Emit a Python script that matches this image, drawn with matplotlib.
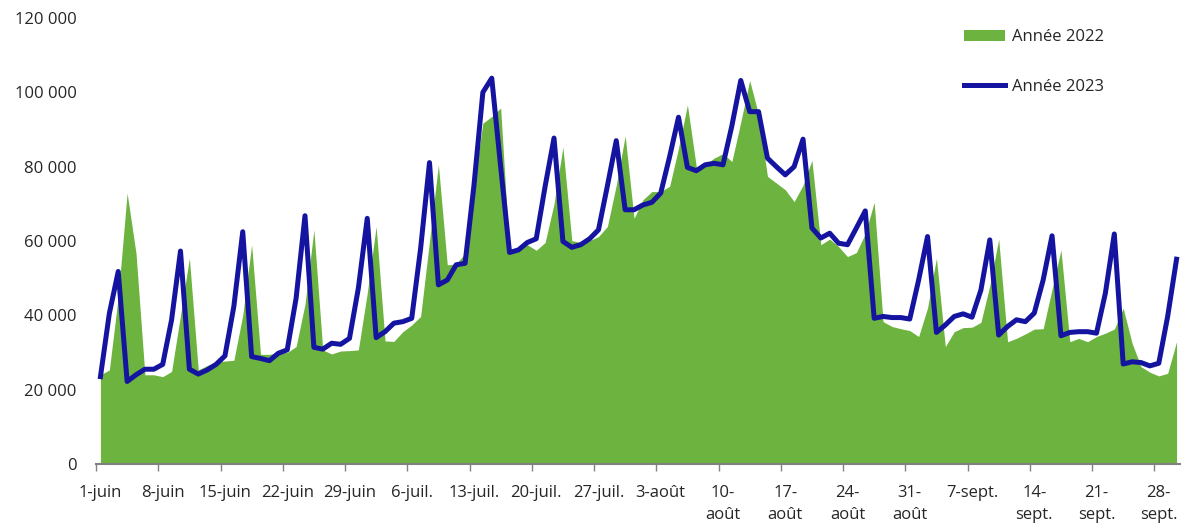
import matplotlib
matplotlib.use("Agg")
import matplotlib.pyplot as plt
import numpy as np

plt.rcParams['font.family'] = ['Open Sans', 'DejaVu Sans']

y2023 = [23500, 40500, 51800, 22200, 24000, 25500, 25500, 26800, 38800, 57300,
         25500, 24200, 25300, 26800, 29100, 42400, 62500, 28900, 28400, 27800,
         29800, 30700, 44600, 66800, 31400, 30900, 32500, 32200, 33800, 47300,
         66100, 34000, 35600, 37900, 38300, 39200, 58000, 81100, 48200, 49500,
         53600, 54000, 75000, 100000, 103800, 80000, 56900, 57600, 59600, 60600,
         74700, 87700, 59900, 58300, 59000, 60600, 63000, 74800, 87000, 68400,
         68400, 69700, 70400, 72900, 82700, 93300, 79800, 78900, 80500, 80900,
         80500, 91000, 103200, 94800, 94800, 82300, 80000, 77800, 80000, 87400,
         63500, 60800, 62100, 59400, 59000, 63500, 68100, 39200, 39700, 39400,
         39400, 39000, 49500, 61200, 35400, 37400, 39700, 40400, 39500, 46800,
         60300, 34700, 37000, 38800, 38300, 40600, 49500, 61400, 34500, 35400,
         35600, 35600, 35200, 46000, 61900, 26900, 27500, 27300, 26400, 27100,
         39700, 55100]

y2022 = [24000, 25300, 45000, 72900, 56700, 24000, 24000, 23500, 24900, 40000,
         55400, 25300, 26500, 27500, 27700, 27900, 40000, 59000, 29500, 29500,
         29800, 30000, 31600, 43000, 63000, 30700, 29600, 30400, 30500, 30700,
         46000, 63900, 33100, 33000, 35600, 37400, 39700, 60000, 80500, 53600,
         53800, 56700, 75000, 91700, 93500, 95800, 56500, 58500, 59000, 57500,
         59600, 70000, 85300, 60100, 59600, 60100, 61200, 63900, 75000, 88300,
         66100, 71100, 73300, 73300, 74700, 85000, 96600, 80000, 80500, 82300,
         83500, 81400, 92000, 103200, 94000, 77400, 75600, 73800, 70600, 75000,
         81700, 59000, 60500, 58500, 55800, 56900, 62000, 70400, 38300, 37000,
         36400, 35900, 34300, 42000, 55400, 31600, 35600, 36700, 36800, 38100,
         48000, 60500, 32900, 33800, 35000, 36300, 36400, 47000, 57600, 32900,
         33800, 32900, 34300, 35200, 36300, 41900, 32500, 26200, 24700, 23700,
         24400, 32900]

tick_labels = ["1-juin", "8-juin", "15-juin", "22-juin", "29-juin", "6-juil.",
               "13-juil.", "20-juil.", "27-juil.", "3-août", "10-\naoût",
               "17-\naoût", "24-\naoût", "31-\naoût", "7-sept.", "14-\nsept.",
               "21-\nsept.", "28-\nsept."]
y_ticks = [0, 20000, 40000, 60000, 80000, 100000, 120000]

green = '#6DB33F'
blue = '#1414A0'
text_color = '#262626'

fig = plt.figure(figsize=(11.81, 5.25), dpi=100)
ax = fig.add_axes([96/1181, 61/525, 1085/1181, 446/525])

n = len(y2023)
x = np.arange(n)
ax.fill_between(x, 0, y2022, color=green, linewidth=0, label='Année 2022')
ax.plot(x, y2023, color=blue, linewidth=3.6, solid_joinstyle='round', label='Année 2023')

ax.set_xlim(-0.5, n - 0.5)
ax.set_ylim(0, 120000)

# major ticks at category boundaries (marks only)
ax.set_xticks(np.arange(-0.5, n, 7))
ax.set_xticklabels([])
ax.tick_params(axis='x', which='major', length=5, width=1, color='#808080', direction='out')
# minor ticks at label positions (labels only)
ax.set_xticks(np.arange(0, n, 7)[:len(tick_labels)], minor=True)
ax.set_xticklabels(tick_labels, minor=True, fontsize=12, color=text_color, linespacing=1.5)
ax.tick_params(axis='x', which='minor', length=0, pad=15)

ax.set_yticks(y_ticks)
ax.set_yticklabels([f"{v:,}".replace(",", " ") for v in y_ticks], fontsize=12, color=text_color)
ax.tick_params(axis='y', length=0, pad=14)

for s in ['top', 'right', 'left']:
    ax.spines[s].set_visible(False)
ax.spines['bottom'].set_color('#808080')
ax.spines['bottom'].set_linewidth(1.5)

leg = ax.legend(loc='upper left', bbox_to_anchor=(0.786, 1.008), frameon=False,
                fontsize=12, handlelength=2.5, handletextpad=0.4, labelspacing=2.0)
for t in leg.get_texts():
    t.set_color(text_color)

fig.savefig('out.png', dpi=100)
